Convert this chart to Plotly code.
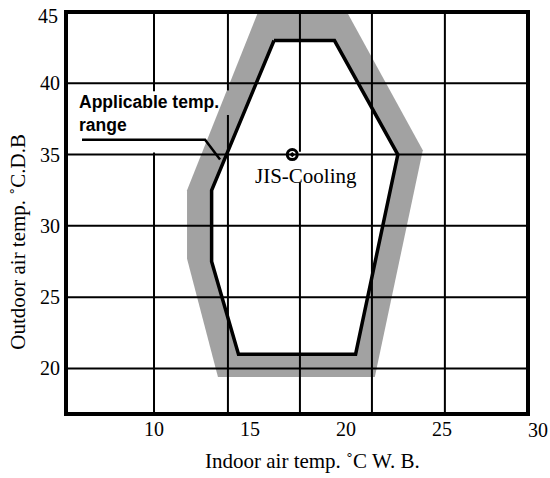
import plotly.graph_objects as go

# ---- data ----
X_TICKS = [10, 15, 20, 25, 30]
Y_TICKS = [20, 25, 30, 35, 40, 45]
GRID_X = [10, 13.85, 17.6, 21.35, 25.15]
GRID_Y = [20, 25, 30, 35, 40]

# applicable range boundary (indoor WB, outdoor DB)
BOUND_X = [16.25, 19.4, 22.7, 20.5, 14.4, 13.0, 13.0]
BOUND_Y = [43, 43, 35, 21, 21, 27.5, 32.5]
# outer edge of the shaded tolerance band
BAND_X = [15.42, 20.05, 24.0, 21.5, 13.33, 11.72, 11.72]
BAND_Y = [45, 45, 35.3, 19.4, 19.4, 27.7, 32.5]

JIS_X = [17.2]
JIS_Y = [35]
JIS_LABEL = "JIS-Cooling"

LEADER_X = [6.25, 12.66, 13.44]
LEADER_Y = [36.04, 36.04, 34.65]

X_RANGE = [5.52, 29.375]
Y_RANGE = [16.944, 44.861]

SERIF = "Liberation Serif"
SANS = "Liberation Sans"

fig = go.Figure()

# shaded band (outer polygon filled grey, interior white)
fig.add_trace(go.Scatter(x=BAND_X + BAND_X[:1], y=BAND_Y + BAND_Y[:1], mode="lines",
                         fill="toself", fillcolor="#a2a2a2", line=dict(width=0),
                         hoverinfo="skip", showlegend=False))
fig.add_trace(go.Scatter(x=BOUND_X + BOUND_X[:1], y=BOUND_Y + BOUND_Y[:1], mode="lines",
                         fill="toself", fillcolor="white", line=dict(width=0),
                         hoverinfo="skip", showlegend=False))

shapes = []
ymin, ymax = Y_RANGE
# horizontal grid
for gy in GRID_Y:
    shapes.append(dict(type="line", xref="paper", yref="y", x0=0, x1=1, y0=gy, y1=gy,
                       line=dict(color="black", width=2), layer="above"))
# vertical grid with gaps where the reference leaves room for text
gaps = {10: [(39.44, 35.14)], 13.85: [(39.5, 37.78)], 17.6: [(35.2, 33.06)]}
for gx in GRID_X:
    segs = []
    top = ymax + 1
    for (a, b) in gaps.get(gx, []):
        segs.append((top, a))
        top = b
    segs.append((top, ymin - 1))
    for (a, b) in segs:
        shapes.append(dict(type="line", xref="x", yref="y", x0=gx, x1=gx, y0=a, y1=b,
                           line=dict(color="black", width=2), layer="above"))

# boundary line
fig.add_trace(go.Scatter(x=BOUND_X + BOUND_X[:1], y=BOUND_Y + BOUND_Y[:1], mode="lines",
                         line=dict(color="black", width=3.5), hoverinfo="skip",
                         showlegend=False))
# leader line
fig.add_trace(go.Scatter(x=LEADER_X, y=LEADER_Y, mode="lines",
                         line=dict(color="black", width=2.5), hoverinfo="skip",
                         showlegend=False))
# JIS point
fig.add_trace(go.Scatter(x=JIS_X, y=JIS_Y, mode="markers",
                         marker=dict(symbol="circle-open-dot", size=10,
                                     line=dict(color="black", width=3), color="black"),
                         hoverinfo="skip", showlegend=False))

annotations = [
    dict(x=17.92, y=33.47, xref="x", yref="y", text=JIS_LABEL, showarrow=False,
         font=dict(family=SERIF, size=21, color="black"), xanchor="center", yanchor="middle"),
    dict(x=6.0, y=37.88, xref="x", yref="y", text="Applicable temp.<br>range",
         showarrow=False, align="left", xanchor="left", yanchor="middle",
         font=dict(family=SANS, size=17.5, color="black", weight="bold")),
    dict(x=1.0262, y=-0.045, xref="paper", yref="paper", text=str(X_TICKS[-1]),
         showarrow=False, xanchor="center", yanchor="middle",
         font=dict(family=SERIF, size=20, color="black")),
    dict(x=-0.017, y=44.72, xref="paper", yref="y", text=str(Y_TICKS[-1]),
         showarrow=False, xanchor="right", yanchor="middle",
         font=dict(family=SERIF, size=20, color="black")),
    dict(x=18.26, y=-0.122, xref="x", yref="paper", text="Indoor air temp. ˚C W. B.",
         showarrow=False, xanchor="center", yanchor="middle",
         font=dict(family=SERIF, size=21, color="black")),
    dict(x=-0.109, y=28.89, xref="paper", yref="y", text="Outdoor air temp. ˚C.D.B",
         showarrow=False, xanchor="center", yanchor="middle", textangle=-90,
         font=dict(family=SERIF, size=21, color="black")),
]

fig.update_layout(
    width=550, height=478,
    margin=dict(l=68, r=24, t=10, b=66),
    paper_bgcolor="white", plot_bgcolor="white",
    shapes=shapes, annotations=annotations,
    showlegend=False, hovermode=False,
    xaxis=dict(range=X_RANGE, tickvals=X_TICKS[:-1], ticktext=[str(v) for v in X_TICKS[:-1]],
               showgrid=False, zeroline=False, showline=True, linecolor="black",
               linewidth=4, mirror=True, ticks="", ticklabelstandoff=-4,
               tickfont=dict(family=SERIF, size=20, color="black")),
    yaxis=dict(range=Y_RANGE, tickvals=Y_TICKS[:-1], ticktext=[str(v) for v in Y_TICKS[:-1]],
               showgrid=False, zeroline=False, showline=True, linecolor="black",
               linewidth=4, mirror=True, ticks="",
               tickfont=dict(family=SERIF, size=20, color="black")),
)

fig.write_html("out.html", config={"displayModeBar": False},
               post_script="document.body.style.margin='0';")
